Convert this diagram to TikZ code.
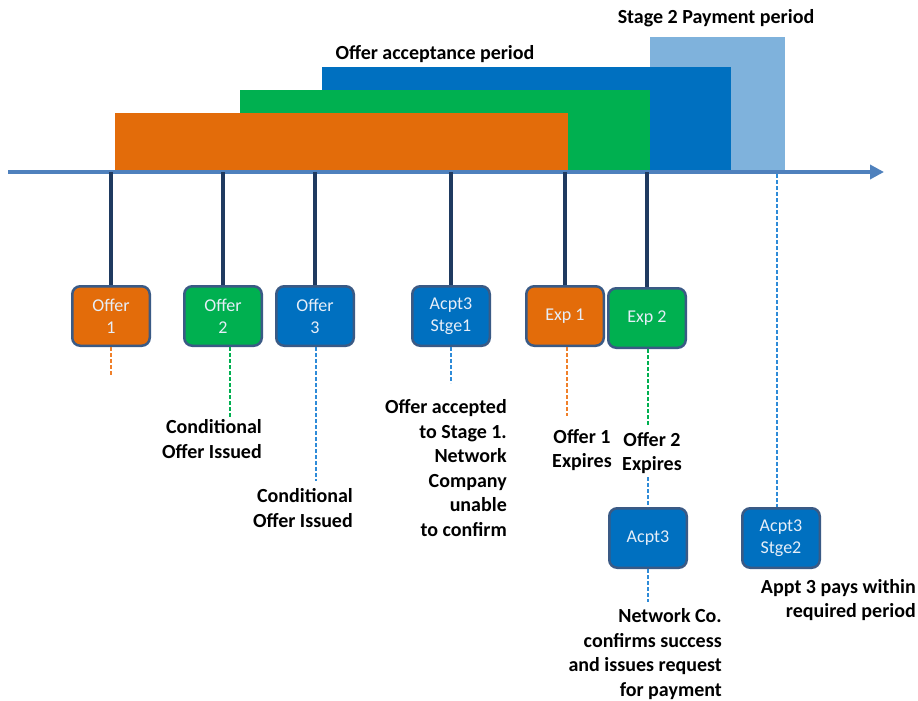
\documentclass[tikz,border=0pt]{standalone}
\usepackage{fontspec}
\setmainfont{Carlito}
\usetikzlibrary{arrows.meta}
\definecolor{corange}{HTML}{E36C0A}
\definecolor{cgreen}{HTML}{00B050}
\definecolor{cblue}{HTML}{0070C0}
\definecolor{clight}{HTML}{7FB2DC}
\definecolor{caxis}{HTML}{4F81BD}
\definecolor{cnavy}{HTML}{1F3A60}
\definecolor{cborder}{HTML}{3A5A85}
\definecolor{cboxtxt}{HTML}{E6EEF8}
\definecolor{dorange}{HTML}{F0802A}
\definecolor{dblue}{HTML}{2E8BD8}
\definecolor{dgreen}{HTML}{00B050}
\begin{document}
\begin{tikzpicture}[x=1pt,y=-1pt,
  evbox/.style={draw=cborder, line width=2.5pt, rounded corners=8pt,
    minimum width=77.5pt, minimum height=59.5pt, text=cboxtxt, align=center,
    font=\fontsize{18}{22}\selectfont, inner sep=0pt},
  lbl/.style={font=\fontsize{20}{24.5}\selectfont\bfseries, inner sep=0pt},
  ticks/.style={draw=cnavy, line width=3.5pt},
  dsh/.style={line width=1.3pt, dash pattern=on 4pt off 2pt},
  axisline/.style={draw=caxis, line width=4pt, -{Triangle[length=14pt,width=14pt]}}]
\useasboundingbox (0,0) rectangle (918,701);

% period bars
\fill[clight] (650,37) rectangle (785,170);
\fill[cblue] (322,67) rectangle (731,170);
\fill[cgreen] (240,90) rectangle (650,170);
\fill[corange] (115,113) rectangle (568,170);

\node[lbl] (tstage) at (716,18) {Stage 2 Payment period};
\node[lbl] (taccept) at (435,54) {Offer acceptance period};

% axis
\coordinate (axs) at (8,172);
\coordinate (axe) at (884,172);
\coordinate (ax) at (0,172);
\draw[axisline] (axs) -- (axe);

% boxes
\node[evbox, fill=corange] (o1) at (111,316) {Offer\\1};
\node[evbox, fill=cgreen]  (o2) at (223,316) {Offer\\2};
\node[evbox, fill=cblue]   (o3) at (315,316) {Offer\\3};
\node[evbox, fill=cblue]   (a1) at (451,316) {Acpt3\\Stge1};
\node[evbox, fill=corange] (e1) at (565,316) {Exp 1};
\node[evbox, fill=cgreen]  (e2) at (647,318) {Exp 2};
\node[evbox, fill=cblue]   (a3) at (648,538) {Acpt3};
\node[evbox, fill=cblue]   (a2) at (781,538) {Acpt3\\Stge2};

% ticks from axis
\draw[ticks] (o1.north |- ax) -- (o1.north);
\draw[ticks] (o2.north |- ax) -- (o2.north);
\draw[ticks] (o3.north |- ax) -- (o3.north);
\draw[ticks] (a1.north |- ax) -- (a1.north);
\draw[ticks] (e1.north |- ax) -- (e1.north);
\draw[ticks] (e2.north |- ax) -- (e2.north);
\coordinate (p2) at (777,174);
\draw[dsh, draw=dblue] (p2) -- (p2 |- a2.north);

% labels
\node[lbl, anchor=east, align=right] (l2) at (262,439) {Conditional\\Offer Issued};
\node[lbl, anchor=east, align=right] (l3) at (353,508) {Conditional\\Offer Issued};
\node[lbl, anchor=east, align=right] (la1) at (507,468) {Offer accepted\\to Stage 1.\\Network\\Company\\unable\\to confirm};
\node[lbl, align=center] (le1) at (582,450) {Offer 1\\Expires};
\node[lbl, align=center] (le2) at (652,453) {Offer 2\\Expires};
\node[lbl, anchor=east, align=right] (la3) at (722,654) {Network Co.\\confirms success\\and issues request\\for payment};
\node[lbl, anchor=east, align=right] (la2) at (916,600) {Appt 3 pays within\\required period};

% dashed drops
\coordinate (d1) at (111,375);
\coordinate (d2) at (230,418);
\coordinate (d3) at (316,481);
\coordinate (da1) at (451,383);
\coordinate (de1) at (567,416);
\coordinate (de2) at (648,425);
\coordinate (dx) at (648,477);
\coordinate (da3) at (648,602);
\draw[dsh, draw=dorange] (o1.south) -- (d1);
\draw[dsh, draw=dgreen] (o2.south -| d2) -- (d2);
\draw[dsh, draw=dblue] (o3.south -| d3) -- (d3);
\draw[dsh, draw=dblue] (a1.south) -- (da1);
\draw[dsh, draw=dorange] (e1.south -| de1) -- (de1);
\draw[dsh, draw=dgreen] (e2.south -| de2) -- (de2);
\draw[dsh, draw=dblue] (dx) -- (a3.north);
\draw[dsh, draw=dblue] (a3.south) -- (da3);
\end{tikzpicture}
\end{document}
